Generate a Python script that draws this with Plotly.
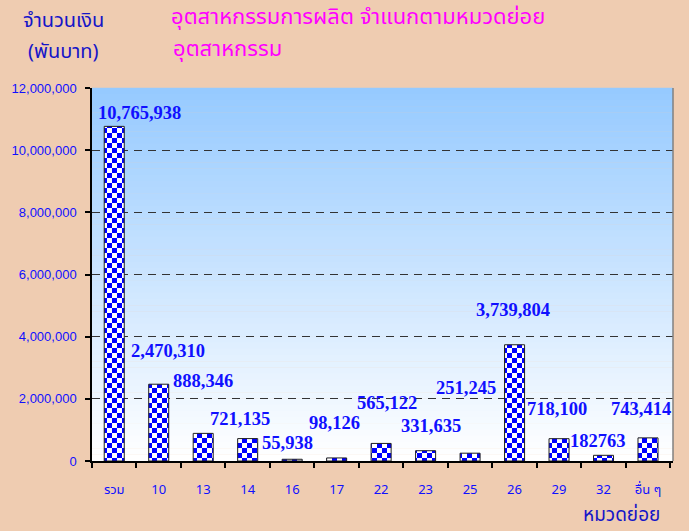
import plotly.graph_objects as go

# ---------------- data ----------------
categories = ["รวม", "10", "13", "14", "16", "17", "22", "23", "25", "26", "29", "32", "อื่น ๆ"]
values = [10765938, 2470310, 888346, 721135, 55938, 98126, 565122, 331635, 251245,
          3739804, 718100, 182763, 743414]
no_comma_categories = ["32"]
y_ticks = [0, 2000000, 4000000, 6000000, 8000000, 10000000, 12000000]

title_line1 = "อุตสาหกรรมการผลิต จำแนกตามหมวดย่อย"
title_line2 = "อุตสาหกรรม"
y_title_line1 = "จำนวนเงิน"
y_title_line2 = "(พันบาท)"
x_title = "หมวดย่อย"

# ---------------- styling ----------------
BLUE = "#1010FF"
PAPER = "#EFCCB1"
THAI_FONT = "Tahoma, 'Noto Sans Thai', 'Noto Sans', 'DejaVu Sans', sans-serif"
# label offsets (px) relative to the top of each bar: (dx, dy)
label_offsets = [(25, 13), (9, 33), (0, 52), (-8, 20), (-5, 16), (-2, 35), (6, 40),
                 (5, 25), (-4, 65), (-2, 35), (-2, 30), (-6, 14), (-7, 29)]

fig = go.Figure()

try:
    pattern_obj = go.bar.marker.Pattern(path="M0,0H5V5H0ZM5,5H10V10H5Z",
                                        fgcolor="#0000FF", bgcolor="white", size=10,
                                        solidity=1, fillmode="replace")
except Exception:
    pattern_obj = go.bar.marker.Pattern(shape="+", fgcolor="#0000FF", bgcolor="white",
                                        size=10, solidity=0.5, fillmode="replace")

fig.add_trace(go.Bar(
    x=categories, y=values,
    marker=dict(color="white", pattern=pattern_obj,
                line=dict(color="#202020", width=1)),
    hoverinfo="x+y",
))

# gradient background of the plot area
n = 60
top = (150, 202, 255)
bot = (255, 255, 255)
for i in range(n):
    f = i / (n - 1)
    c = tuple(round(top[k] + (bot[k] - top[k]) * f) for k in range(3))
    y1 = 1 - i / n
    y0 = 1 - (i + 1) / n
    fig.add_shape(type="rect", xref="x domain", yref="y domain", x0=0, x1=1,
                  y0=y0, y1=y1 + 0.001, fillcolor=f"rgb{c}", line_width=0, layer="below")

# right border
fig.add_shape(type="line", xref="x domain", yref="y domain", x0=1, x1=1, y0=0, y1=1,
              line=dict(color="#808080", width=1.5))

# value labels (x given as category index)
for i, (cat, v, (dx, dy)) in enumerate(zip(categories, values, label_offsets)):
    txt = str(v) if cat in no_comma_categories else f"{v:,}"
    fig.add_annotation(x=i, y=v, xref="x", yref="y", text=txt, showarrow=False,
                       xanchor="center", yanchor="middle", xshift=dx, yshift=dy,
                       font=dict(family="'Liberation Serif', 'Times New Roman', serif",
                                 size=18.5, color=BLUE, weight="bold"))

W, H = 689, 531
L, R, T, B = 90, 16, 88, 70
pw, ph = W - L - R, H - T - B


def px(x, y):
    return (x - L) / pw, (H - y - B) / ph


def text_at(x, y, text, size, color, anchor="center", weight="normal"):
    xp, yp = px(x, y)
    fig.add_annotation(x=xp, y=yp, xref="paper", yref="paper", text=text,
                       showarrow=False, xanchor=anchor, yanchor="middle", borderpad=0,
                       font=dict(family=THAI_FONT, size=size, color=color, weight=weight))


text_at(357, 17, title_line1, 22, "#FF00FF")
text_at(226, 50, title_line2, 22, "#FF00FF")
text_at(61, 21, y_title_line1, 20, "#1515C8")
text_at(61, 52, y_title_line2, 20, "#1515C8")
text_at(621, 515, x_title, 19, "#1515C8")

fig.update_layout(
    width=W, height=H,
    margin=dict(l=L, r=R, t=T, b=B, pad=0),
    paper_bgcolor=PAPER, plot_bgcolor="rgba(0,0,0,0)",
    showlegend=False, bargap=0.55,
    font=dict(family=THAI_FONT, color=BLUE),
)
fig.update_xaxes(
    type="category", categoryorder="array", categoryarray=categories,
    showline=True, linecolor="black", linewidth=1.5,
    ticks="outside", tickson="boundaries", ticklen=5, tickcolor="black", tickwidth=1.5,
    tickfont=dict(size=13, color=BLUE, family=THAI_FONT), ticklabelstandoff=16,
    tickangle=0,
    showgrid=False, zeroline=False,
)
fig.update_yaxes(
    range=[0, 12000000], tickvals=y_ticks, tickformat=",d",
    showline=True, linecolor="black", linewidth=1.5,
    ticks="outside", ticklen=5, tickcolor="black", tickwidth=1.5,
    tickfont=dict(size=13, color=BLUE, family="'Liberation Sans', Arial, sans-serif"),
    ticklabelstandoff=6,
    showgrid=True, gridcolor="#333333", gridwidth=1, griddash="8px,6px",
    zeroline=False,
)

fig.write_html(
    "out.html",
    config={"displayModeBar": False},
    post_script="document.body.style.margin='0';"
                "document.body.style.background='" + PAPER + "';"
                "document.body.style.overflow='hidden';",
)
